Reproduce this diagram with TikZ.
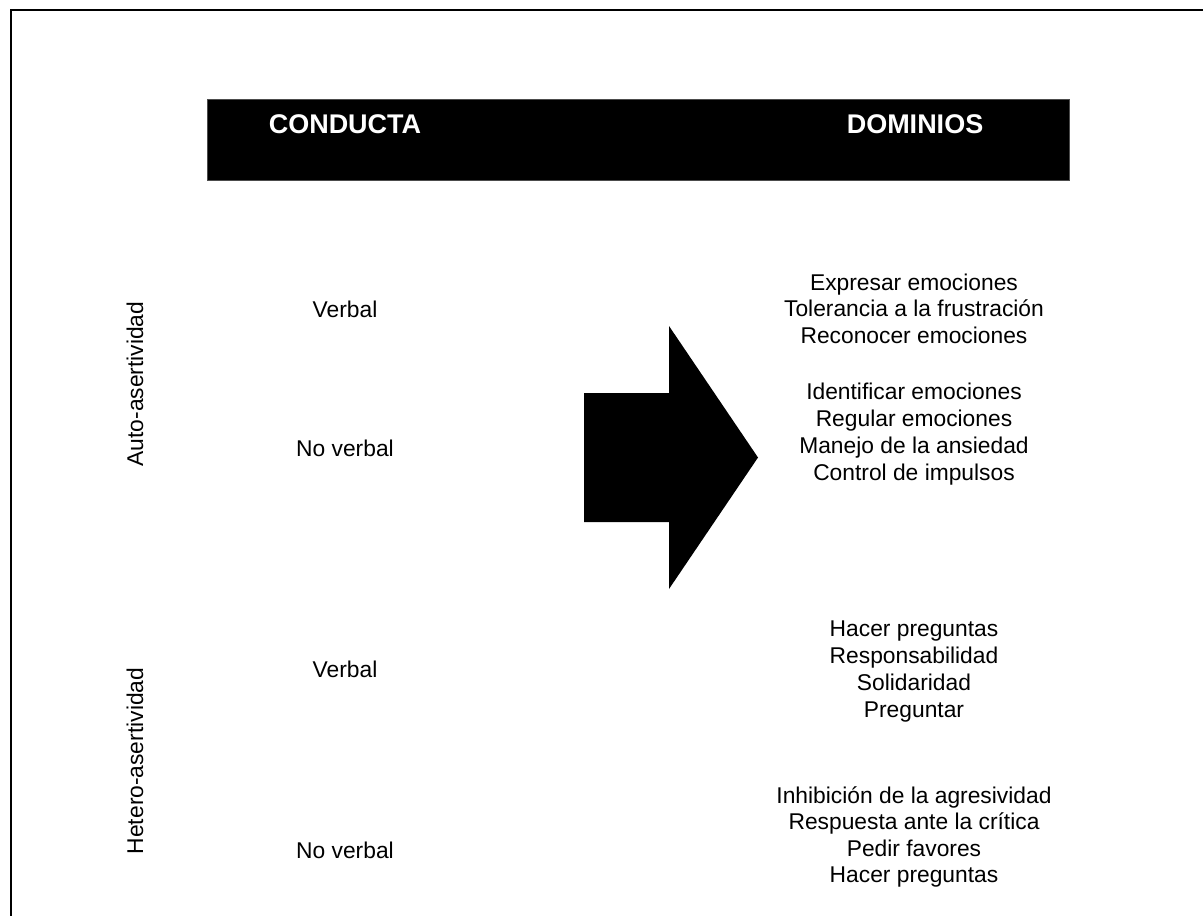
\documentclass[tikz,border=0pt]{standalone}
\usepackage{fontspec}
\setmainfont{Liberation Sans}
\newcommand\stackc[1]{\vtop{\halign{\hfil##\hfil\cr#1\crcr}}}
\begin{document}
\begin{tikzpicture}[x=1pt,y=-1pt,
  txt/.style={inner sep=0pt,anchor=base,font=\fontsize{22.8}{26.5}\selectfont},
  txtw/.style={inner sep=0pt,anchor=base,font=\fontsize{22.8}{27.2}\selectfont},
  head/.style={inner sep=0pt,anchor=base,text=white,font=\fontsize{27}{30}\selectfont\bfseries},
  side/.style={inner sep=0pt,anchor=base,rotate=90,font=\fontsize{22.8}{26.5}\selectfont}]
\useasboundingbox (0,0) rectangle (1203,916);
% frame (top and left edges)
\draw[line width=2.4pt] (11,916) -- (11,10) -- (1203,10);
% header bar
\node[draw=black!70,fill=black,minimum width=862pt,minimum height=81pt,inner sep=0pt,anchor=north west] (bar) at (207,99) {};
\node[head] (conducta) at (345,133) {CONDUCTA};
\node[head] (dominios) at (915,133) {DOMINIOS};
% big arrow
\fill[black] (584,393) -- (669,393) -- (669,326) -- (758,457.5) -- (669,589) -- (669,522) -- (584,522) -- cycle;
% side labels
\node[side] (auto) at (143,384) {Auto-asertividad};
\node[side] (hetero) at (143,761) {Hetero-asertividad};
% left column
\node[txt] (v1) at (345,317) {Verbal};
\node[txt] (nv1) at (345,456) {No verbal};
\node[txt] (v2) at (345,677) {Verbal};
\node[txt] (nv2) at (345,858) {No verbal};
% right column
\node[txt] (d1) at (914,290) {\stackc{Expresar emociones\cr Tolerancia a la frustración\cr Reconocer emociones}};
\node[txtw] (d2) at (914,399) {\stackc{Identificar emociones\cr Regular emociones\cr Manejo de la ansiedad\cr Control de impulsos}};
\node[txtw] (d3) at (914,636) {\stackc{Hacer preguntas\cr Responsabilidad\cr Solidaridad\cr Preguntar}};
\node[txt] (d4) at (914,803) {\stackc{Inhibición de la agresividad\cr Respuesta ante la crítica\cr Pedir favores\cr Hacer preguntas}};
\end{tikzpicture}
\end{document}
